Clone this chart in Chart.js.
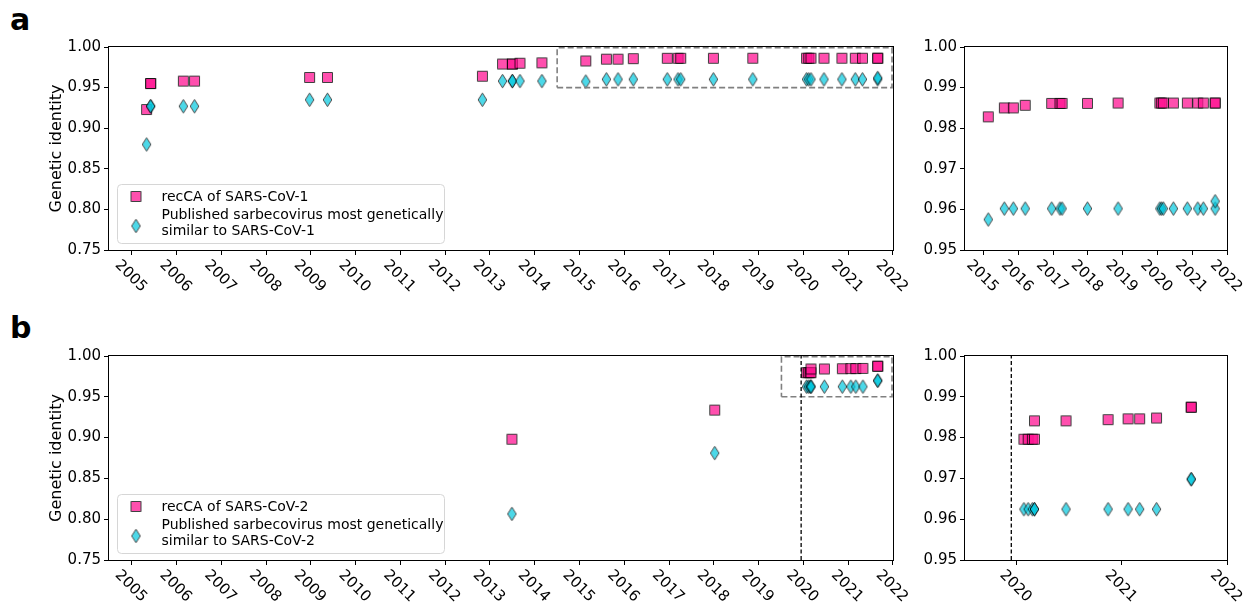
<!DOCTYPE html>
<html>
<head>
<meta charset="utf-8">
<script src="https://cdn.jsdelivr.net/npm/chart.js@4.4.1/dist/chart.umd.min.js"></script>
<style>
  html, body { margin: 0; padding: 0; background: #fff; }
  body { width: 1250px; height: 603px; position: relative; overflow: hidden; font-family: "DejaVu Sans", sans-serif; }
  .panel { position: absolute; }
  .panel canvas { display: block; }
  .panel-letter { position: absolute; font-family: "DejaVu Sans", sans-serif; font-weight: bold; font-size: 30px; line-height: 30px; color: #000; }
</style>
</head>
<body>
<div class="panel-letter" style="left:10px;top:5px">a</div>
<div class="panel-letter" style="left:10px;top:313px">b</div>
<div class="panel" style="left:0;top:0"><canvas id="mainA" width="915" height="300"></canvas></div>
<div class="panel" style="left:915px;top:0"><canvas id="zoomA" width="335" height="300"></canvas></div>
<div class="panel" style="left:0;top:305px"><canvas id="mainB" width="915" height="298"></canvas></div>
<div class="panel" style="left:915px;top:305px"><canvas id="zoomB" width="335" height="298"></canvas></div>

<script>
// ---- SARS-CoV-1: sampling dates (decimal years) and genetic identities ----
const cov1Dates = [
  2005.33, 2005.42, 2005.42, 2006.15, 2006.40, 2008.97, 2009.37, 2012.83,
  2013.28, 2013.50, 2013.50, 2013.67, 2014.16,
  2015.14, 2015.60, 2015.86, 2016.20, 2016.96, 2017.20, 2017.26, 2017.99,
  2018.87, 2020.07, 2020.12, 2020.17, 2020.46, 2020.86, 2021.16, 2021.32,
  2021.66, 2021.66
];
const cov1RecCA = [
  0.923, 0.955, 0.955, 0.958, 0.958, 0.9625, 0.9625, 0.964,
  0.979, 0.979, 0.979, 0.980, 0.9805,
  0.9828, 0.9850, 0.9850, 0.98565, 0.9861, 0.9861, 0.9861, 0.9861,
  0.9862, 0.9862, 0.9862, 0.9862, 0.9862, 0.9862, 0.9862, 0.9862,
  0.9862, 0.9862
];
const cov1Closest = [
  0.880, 0.927, 0.927, 0.927, 0.927, 0.935, 0.935, 0.935,
  0.958, 0.958, 0.958, 0.958, 0.958,
  0.9575, 0.9602, 0.9602, 0.9602, 0.9602, 0.9602, 0.9602, 0.9602,
  0.9602, 0.9602, 0.9602, 0.9602, 0.9602, 0.9602, 0.9602, 0.9602,
  0.9602, 0.9620
];

// ---- SARS-CoV-2 ----
const cov2Dates = [
  2013.49, 2018.02, 2020.07, 2020.11, 2020.15, 2020.17, 2020.17,
  2020.47, 2020.87, 2021.06, 2021.17, 2021.33, 2021.66, 2021.66
];
const cov2RecCA = [
  0.898, 0.9337, 0.9796, 0.9796, 0.9796, 0.9796, 0.9841,
  0.9841, 0.9844, 0.9846, 0.9846, 0.9848, 0.98745, 0.98745
];
const cov2Closest = [
  0.8065, 0.881, 0.96245, 0.96245, 0.96245, 0.96245, 0.96245,
  0.96245, 0.96245, 0.96245, 0.96245, 0.96245, 0.9698, 0.9698
];

// first SARS-CoV-2 report (dashed marker line)
const cov2Emergence = 2019.95;

// ---- tick labels ----
const yearTicksFull = [2005, 2006, 2007, 2008, 2009, 2010, 2011, 2012, 2013,
                       2014, 2015, 2016, 2017, 2018, 2019, 2020, 2021, 2022];
const yearTicksZoomA = [2015, 2016, 2017, 2018, 2019, 2020, 2021, 2022];
const yearTicksZoomB = [2020, 2021, 2022];
const identityTicksFull = [0.75, 0.80, 0.85, 0.90, 0.95, 1.00];
const identityTicksZoom = [0.95, 0.96, 0.97, 0.98, 0.99, 1.00];

const legendCov1 = ['recCA of SARS-CoV-1', ['Published sarbecovirus most genetically', 'similar to SARS-CoV-1']];
const legendCov2 = ['recCA of SARS-CoV-2', ['Published sarbecovirus most genetically', 'similar to SARS-CoV-2']];

const FONT = '"DejaVu Sans", sans-serif';

// ---- marker images (matplotlib-like square and thin diamond, drawn with alpha) ----
function markerImage(kind) {
  const W = kind === 'square' ? 13 : 11;
  const H = kind === 'square' ? 13 : 16;
  const tmp = document.createElement('canvas');
  tmp.width = W; tmp.height = H;
  const t = tmp.getContext('2d');
  t.lineWidth = 1;
  t.strokeStyle = '#000';
  t.beginPath();
  if (kind === 'square') {
    t.fillStyle = '#ff1493';
    t.rect(1.5, 1.5, 10, 10);
  } else {
    t.fillStyle = '#00c8de';
    t.moveTo(5.5, 1.2);
    t.lineTo(9.8, 8);
    t.lineTo(5.5, 14.8);
    t.lineTo(1.2, 8);
    t.closePath();
  }
  t.fill();
  t.stroke();
  const out = document.createElement('canvas');
  out.width = W; out.height = H;
  const o = out.getContext('2d');
  o.globalAlpha = kind === 'square' ? 0.75 : 0.7;
  o.drawImage(tmp, 0, 0);
  return out;
}
const squareImg = markerImage('square');
const diamondImg = markerImage('diamond');

// ---- frame, rotated year labels and legend ----
const decorPlugin = {
  id: 'decor',
  afterDraw(chart, args, opts) {
    const ctx = chart.ctx;
    const ca = chart.chartArea;
    const xs = chart.scales.x;
    ctx.save();

    // axis frame (all four spines)
    ctx.strokeStyle = '#000';
    ctx.lineWidth = 1;
    ctx.strokeRect(Math.round(ca.left) - 0.5, Math.round(ca.top) - 0.5,
                   Math.round(ca.right - ca.left) + 1, Math.round(ca.bottom - ca.top) + 1);

    // year labels rotated clockwise, bounding box centred under each tick
    const fs = 15;
    const ang = 45 * Math.PI / 180;
    ctx.font = fs + 'px ' + FONT;
    ctx.fillStyle = '#000';
    xs.ticks.forEach(tk => {
      const label = String(tk.value);
      const x = xs.getPixelForValue(tk.value);
      const w = ctx.measureText(label).width;
      const inkH = fs * 0.73;
      const half = ((w - 2) * Math.sin(ang) + inkH * Math.cos(ang)) / 2;
      const cy = ca.bottom + 8.5 + half;
      ctx.save();
      ctx.translate(x, cy);
      ctx.rotate(ang);
      ctx.textAlign = 'left';
      ctx.textBaseline = 'alphabetic';
      ctx.fillText(label, -w / 2, inkH / 2);
      ctx.restore();
    });

    // legend box
    if (opts.legend) {
      const bx = ca.left + 8, bw = 327, bh = 59;
      const by = ca.bottom - 7 - bh;
      ctx.beginPath();
      ctx.roundRect(bx + 0.5, by + 0.5, bw, bh, 4);
      ctx.fillStyle = 'rgba(255,255,255,0.8)';
      ctx.fill();
      ctx.strokeStyle = '#d6d6d6';
      ctx.lineWidth = 1;
      ctx.stroke();
      ctx.drawImage(squareImg, bx + 19 - squareImg.width / 2, by + 12.5 - squareImg.height / 2);
      ctx.drawImage(diamondImg, bx + 19 - diamondImg.width / 2, by + 42 - diamondImg.height / 2);
      ctx.fillStyle = '#000';
      ctx.font = '14px ' + FONT;
      ctx.textAlign = 'left';
      ctx.textBaseline = 'middle';
      const tx = bx + 44.5;
      ctx.fillText(opts.legend[0], tx, by + 13);
      ctx.fillText(opts.legend[1][0], tx, by + 31);
      ctx.fillText(opts.legend[1][1], tx, by + 47.5);
    }
    ctx.restore();
  }
};

function points(xs, ys) {
  return xs.map((x, i) => ({ x: x, y: ys[i] }));
}

function buildPanel(canvasId, cfg) {
  const datasets = [];
  if (cfg.vline !== undefined) {
    datasets.push({
      data: [{ x: cfg.vline, y: cfg.yMin }, { x: cfg.vline, y: cfg.yMax }],
      showLine: true, borderColor: '#000', borderWidth: 1.3, borderDash: [4, 2.5],
      pointRadius: 0, order: 0
    });
  }
  if (cfg.box) {
    const b = cfg.box;
    datasets.push({
      data: [{ x: b.x0, y: b.y0 }, { x: b.x1, y: b.y0 }, { x: b.x1, y: b.y1 },
             { x: b.x0, y: b.y1 }, { x: b.x0, y: b.y0 }],
      showLine: true, borderColor: '#808080', borderWidth: 1.6, borderDash: [6, 3],
      pointRadius: 0, order: 0
    });
  }
  datasets.push({
    data: points(cfg.dates, cfg.closest),
    pointStyle: diamondImg, pointRadius: 6, order: 1
  });
  datasets.push({
    data: points(cfg.dates, cfg.recca),
    pointStyle: squareImg, pointRadius: 6, order: 2
  });

  return new Chart(document.getElementById(canvasId), {
    type: 'scatter',
    data: { datasets: datasets },
    options: {
      responsive: false,
      animation: false,
      devicePixelRatio: 1,
      events: [],
      layout: { padding: cfg.padding },
      plugins: {
        legend: { display: false },
        tooltip: { enabled: false },
        decor: { legend: cfg.legend || null }
      },
      scales: {
        x: {
          type: 'linear',
          min: cfg.xMin, max: cfg.xMax,
          afterBuildTicks: s => { s.ticks = cfg.xTicks.map(v => ({ value: v })); },
          afterFit: s => { s.height = cfg.xAxisHeight; },
          grid: { drawOnChartArea: false, drawTicks: true, tickLength: 5, color: '#000', lineWidth: 1 },
          border: { display: false },
          ticks: { autoSkip: false, minRotation: 0, maxRotation: 0, color: 'rgba(0,0,0,0)',
                   font: { family: FONT, size: 15 }, callback: v => String(v) }
        },
        y: {
          type: 'linear',
          min: cfg.yMin, max: cfg.yMax,
          afterBuildTicks: s => { s.ticks = cfg.yTicks.map(v => ({ value: v })); },
          afterFit: s => { s.width = cfg.yAxisWidth; },
          grid: { drawOnChartArea: false, drawTicks: true, tickLength: 5, color: '#000', lineWidth: 1 },
          border: { display: false },
          ticks: { color: '#000', padding: 3, font: { family: FONT, size: 15 },
                   callback: v => Number(v).toFixed(2) },
          title: cfg.yTitle ? {
            display: true, text: cfg.yTitle, color: '#000',
            font: { family: FONT, size: 16 }, padding: { top: 47, bottom: 0 }
          } : { display: false }
        }
      }
    },
    plugins: [decorPlugin]
  });
}

// panel a: full period
buildPanel('mainA', {
  dates: cov1Dates, recca: cov1RecCA, closest: cov1Closest,
  xMin: 2004.49, xMax: 2022.0, xTicks: yearTicksFull,
  yMin: 0.75, yMax: 1.0, yTicks: identityTicksFull,
  yTitle: 'Genetic identity', legend: legendCov1,
  box: { x0: 2014.5, x1: 2021.98, y0: 0.95, y1: 0.999 },
  padding: { top: 47, right: 20, left: 0, bottom: 0 },
  yAxisWidth: 109, xAxisHeight: 50
});
// panel a: close-up 2015-2022
buildPanel('zoomA', {
  dates: cov1Dates, recca: cov1RecCA, closest: cov1Closest,
  xMin: 2014.47, xMax: 2022.0, xTicks: yearTicksZoomA,
  yMin: 0.95, yMax: 1.0, yTicks: identityTicksZoom,
  padding: { top: 47, right: 23, left: 0, bottom: 0 },
  yAxisWidth: 50, xAxisHeight: 50
});
// panel b: full period
buildPanel('mainB', {
  dates: cov2Dates, recca: cov2RecCA, closest: cov2Closest,
  xMin: 2004.49, xMax: 2022.0, xTicks: yearTicksFull,
  yMin: 0.75, yMax: 1.0, yTicks: identityTicksFull,
  yTitle: 'Genetic identity', legend: legendCov2,
  box: { x0: 2019.51, x1: 2021.98, y0: 0.95, y1: 0.999 },
  vline: cov2Emergence,
  padding: { top: 51, right: 20, left: 0, bottom: 0 },
  yAxisWidth: 109, xAxisHeight: 43
});
// panel b: close-up 2019.5-2022
buildPanel('zoomB', {
  dates: cov2Dates, recca: cov2RecCA, closest: cov2Closest,
  xMin: 2019.51, xMax: 2022.0, xTicks: yearTicksZoomB,
  yMin: 0.95, yMax: 1.0, yTicks: identityTicksZoom,
  vline: cov2Emergence,
  padding: { top: 51, right: 23, left: 0, bottom: 0 },
  yAxisWidth: 50, xAxisHeight: 43
});
</script>
</body>
</html>
